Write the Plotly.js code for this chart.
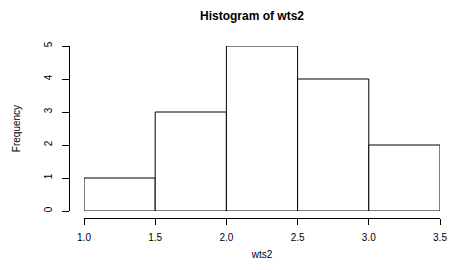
<!DOCTYPE html>
<html>
<head>
<meta charset="utf-8">
<script src="https://cdn.plot.ly/plotly-3.0.1.min.js"></script>
<style>html,body{margin:0;padding:0;background:#fff;}#chart{width:452px;height:270px;}</style>
</head>
<body>
<div id="chart"></div>
<script>
var binEdges = [1.0, 1.5, 2.0, 2.5, 3.0, 3.5];
var counts = [1, 3, 5, 4, 2];
var xTicks = [1.0, 1.5, 2.0, 2.5, 3.0, 3.5];
var yTicks = [0, 1, 2, 3, 4, 5];

var mids = [], widths = [];
for (var i = 0; i < counts.length; i++) {
  mids.push((binEdges[i] + binEdges[i + 1]) / 2);
  widths.push(binEdges[i + 1] - binEdges[i]);
}

var W = 452, H = 270;
var L = 69, R = 12, T = 46, B = 52;
var pw = W - L - R, ph = H - T - B;
var x0px = 84, y0px = 211;
var font = 'Liberation Sans, Arial, Helvetica, sans-serif';

var trace = {
  type: 'bar', x: mids, y: counts, width: widths,
  marker: {color: '#ffffff', line: {color: '#000000', width: 1}},
  hoverinfo: 'skip'
};

var layout = {
  width: W, height: H,
  margin: {l: L, r: R, t: T, b: B, pad: 0},
  paper_bgcolor: '#fff', plot_bgcolor: 'rgba(0,0,0,0)',
  showlegend: false,
  font: {family: font, size: 10, color: '#000'},
  title: {text: '<b>Histogram of wts2</b>', font: {family: font, size: 12, color: '#000'},
          xref: 'container', yref: 'container', x: 252 / W, y: 1 - 15.5 / H,
          xanchor: 'center', yanchor: 'middle'},
  xaxis: {
    domain: [(x0px - L) / pw, 1], range: [binEdges[0], binEdges[binEdges.length - 1]],
    anchor: 'free', position: 0,
    showline: true, linecolor: '#000', linewidth: 1, mirror: false,
    showgrid: false, zeroline: false,
    tickmode: 'array', tickvals: xTicks, ticktext: xTicks.map(function(v){return v.toFixed(1);}),
    ticks: 'outside', ticklen: 6, tickcolor: '#000', tickwidth: 1,
    ticklabelstandoff: 4,
    tickfont: {family: font, size: 10, color: '#000'},
    title: {text: 'wts2', font: {family: font, size: 10, color: '#000'}, standoff: 8}
  },
  yaxis: {
    domain: [(T + ph - y0px) / ph, 1], range: [0, 5],
    anchor: 'free', position: 0,
    showline: true, linecolor: '#000', linewidth: 1,
    showgrid: false, zeroline: false,
    tickmode: 'array', tickvals: yTicks, ticktext: yTicks.map(String),
    ticks: 'outside', ticklen: 7, tickcolor: '#000', tickwidth: 1,
    tickangle: -90, ticklabelstandoff: 6,
    tickfont: {family: font, size: 10, color: '#000'},
    title: {text: 'Frequency', font: {family: font, size: 10, color: '#000'}, standoff: 19}
  }
};

Plotly.newPlot('chart', [trace], layout, {displayModeBar: false, staticPlot: true});
</script>
</body>
</html>
